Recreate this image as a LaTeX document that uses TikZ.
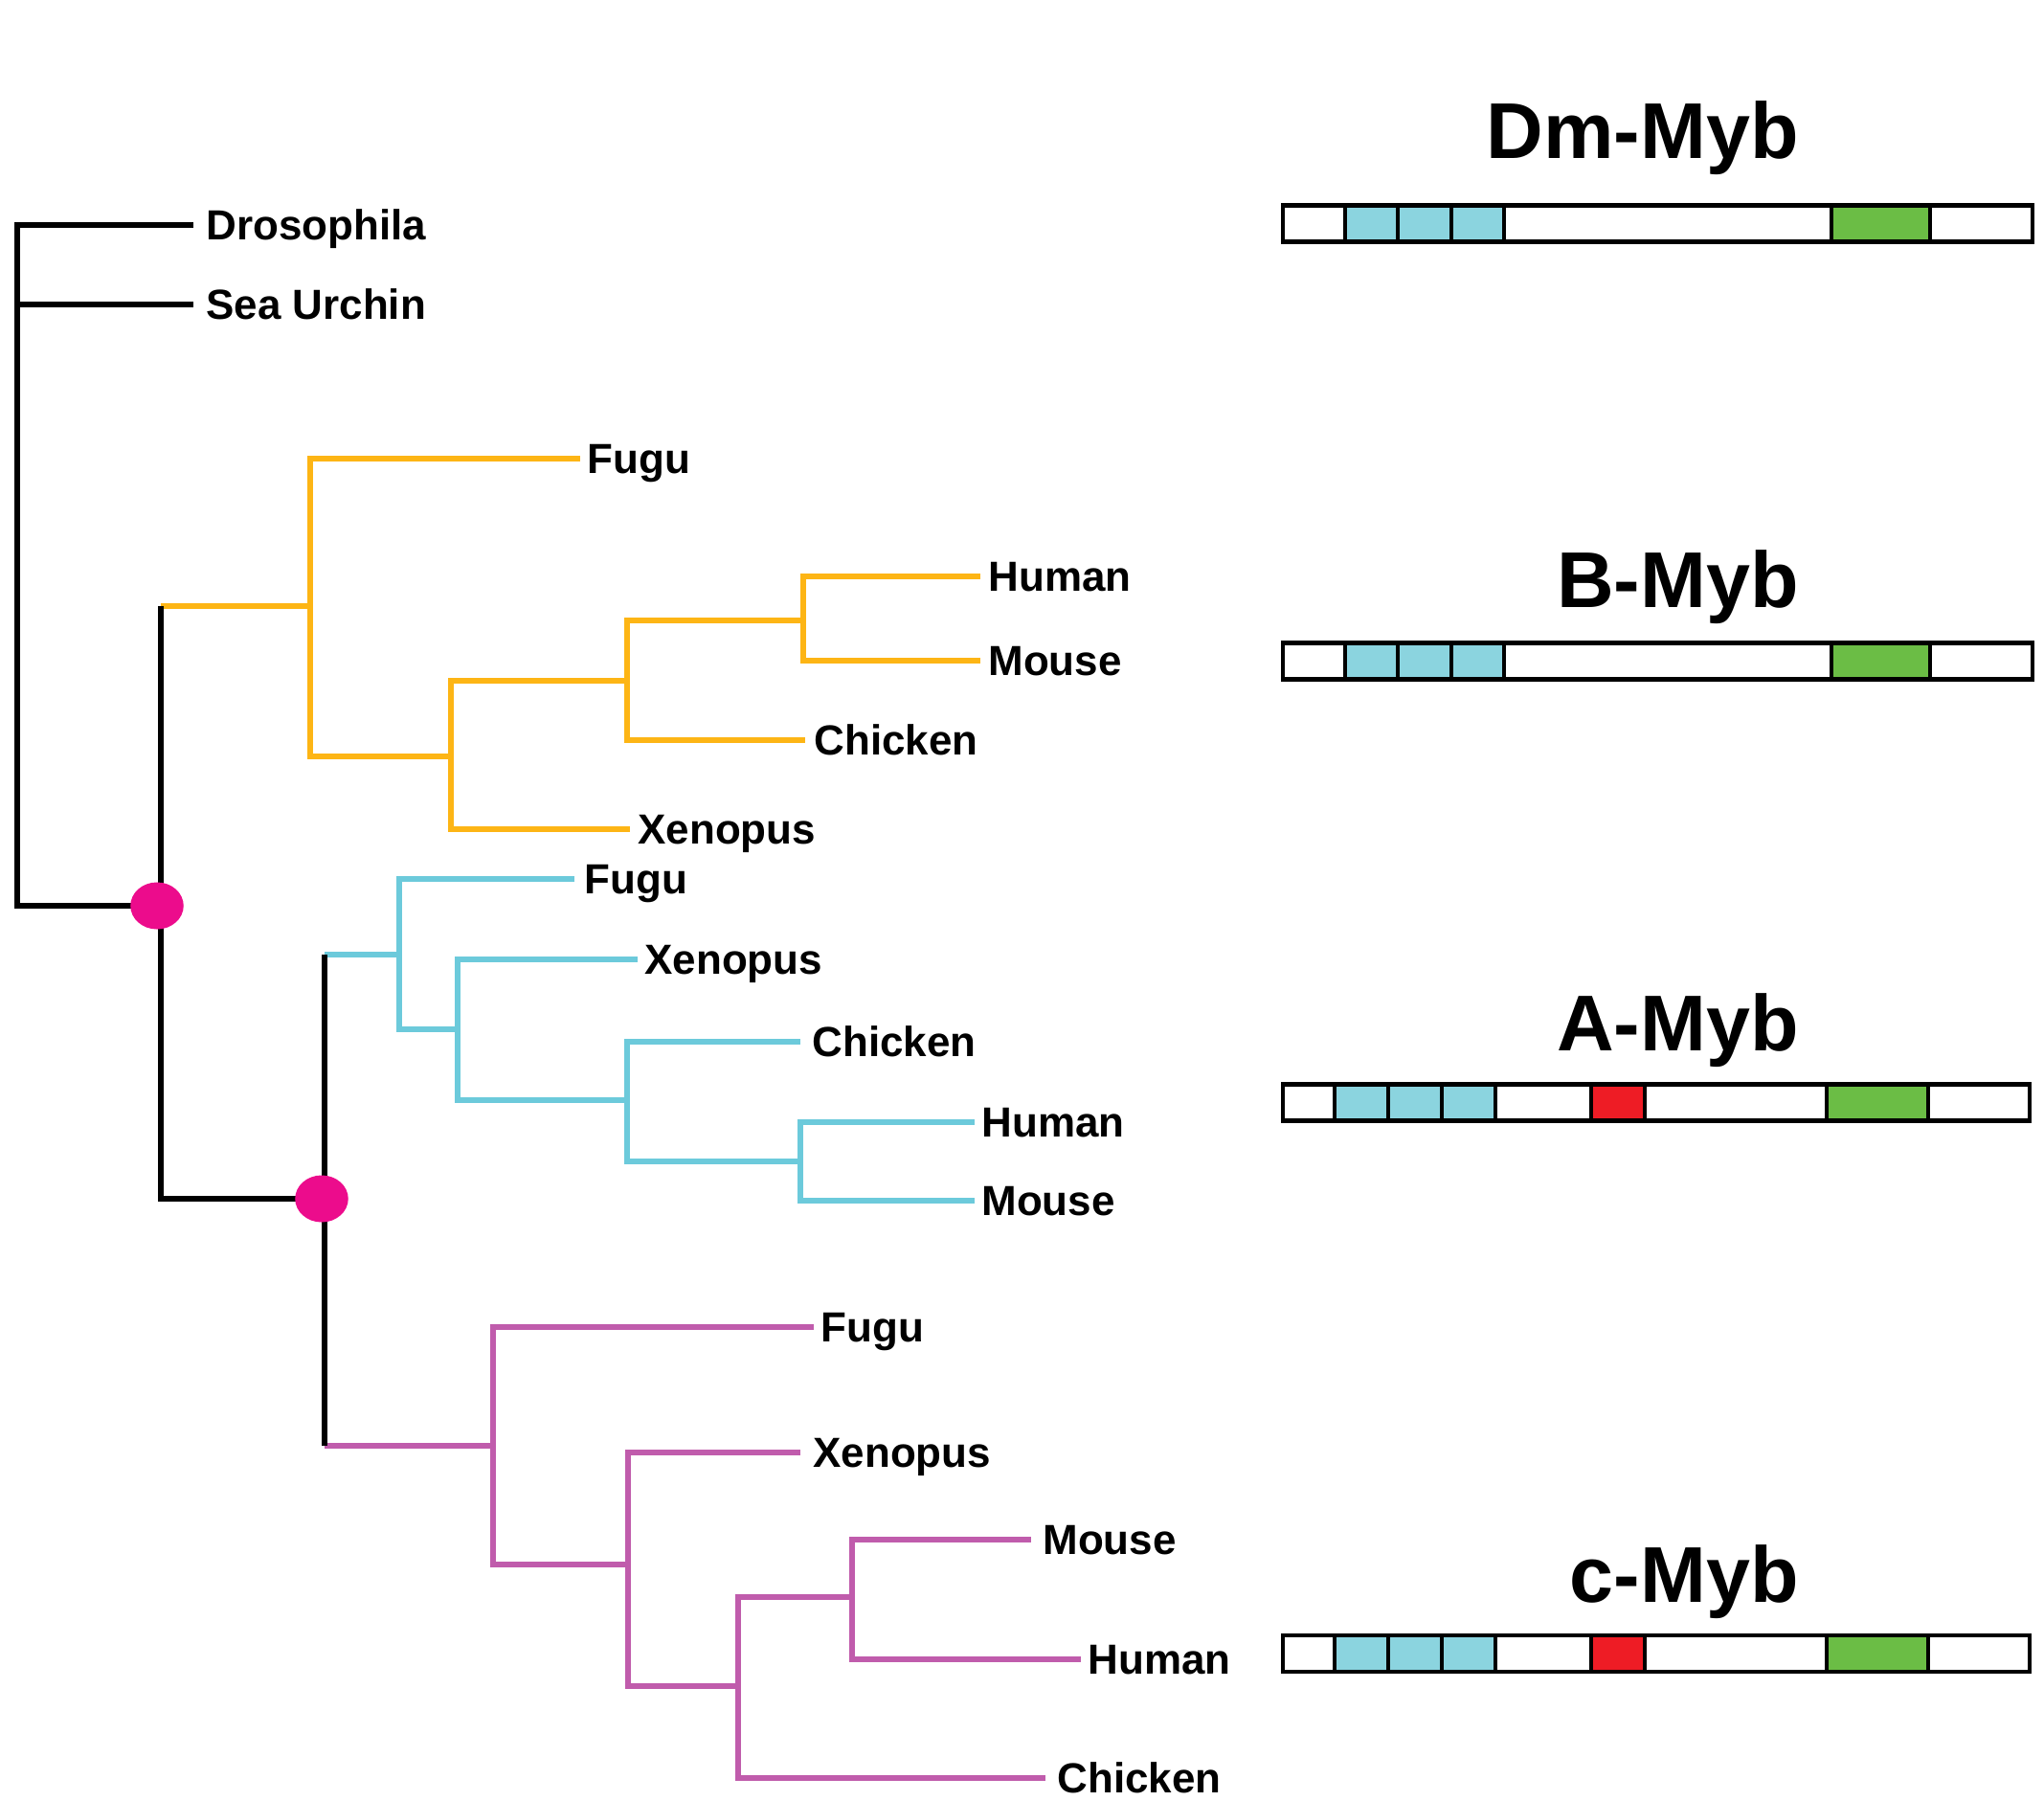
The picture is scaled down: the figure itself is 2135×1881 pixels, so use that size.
\documentclass[tikz,border=0pt]{standalone}
\usepackage{fontspec}
\setmainfont{Liberation Sans}
\usetikzlibrary{shapes.geometric}
\definecolor{orng}{HTML}{FDB515}
\definecolor{cyl}{HTML}{6CCADB}
\definecolor{mag}{HTML}{C05CAC}
\definecolor{pnk}{HTML}{EC0C8C}
\definecolor{cybox}{HTML}{8BD4DF}
\definecolor{grbox}{HTML}{6BBD45}
\definecolor{rdbox}{HTML}{EE1C25}
\begin{document}
\begin{tikzpicture}[x=0.01cm,y=-0.01cm,line width=1.4pt,
  blk/.style={draw=black,line width=1.5pt,line join=miter},
  obr/.style={draw=orng,line width=1.6pt,line join=miter},
  cbr/.style={draw=cyl,line width=1.6pt,line join=miter},
  mbr/.style={draw=mag,line width=1.6pt,line join=miter},
  lbl/.style={anchor=base west,inner sep=0pt,xshift=0.05cm,yshift=-4.5pt,
    font=\fontsize{12.5}{15}\selectfont\bfseries},
  ttl/.style={anchor=base east,inner sep=0pt,font=\fontsize{23.5}{28}\selectfont\bfseries},
  pinkdot/.style={shape=ellipse,fill=pnk,draw=none,minimum width=0.555cm,minimum height=0.49cm,inner sep=0pt},
  dom/.style={draw=black,line width=1.4pt}]
\useasboundingbox (0,0) rectangle (2135,1881);

% ---------- tree coordinates ----------
\coordinate (R) at (18,235);
\coordinate (lDros) at (202,235);
\coordinate (lSea) at (202,318);
\coordinate (V) at (168,946);
\coordinate (V2) at (339,1252);
% B-Myb
\coordinate (B) at (324,633);
\coordinate (B1) at (471,790);
\coordinate (B2) at (655,711);
\coordinate (B3) at (839,648);
\coordinate (lBF) at (606,479);
\coordinate (lBX) at (658,866);
\coordinate (lBC) at (841,773);
\coordinate (lBH) at (1024,602);
\coordinate (lBM) at (1024,690);
% A-Myb
\coordinate (A) at (417,997);
\coordinate (A1) at (478,1075);
\coordinate (A2) at (655,1149);
\coordinate (A3) at (836,1213);
\coordinate (lAF) at (600,918);
\coordinate (lAX) at (666,1002);
\coordinate (lAC) at (836,1088);
\coordinate (lAH) at (1018,1172);
\coordinate (lAM) at (1018,1254);
% c-Myb
\coordinate (C) at (515,1510);
\coordinate (C1) at (656,1634);
\coordinate (C2) at (771,1761);
\coordinate (C3) at (890,1668);
\coordinate (lCF) at (850,1386);
\coordinate (lCX) at (836,1517);
\coordinate (lCC) at (1092,1857);
\coordinate (lCM) at (1077,1608);
\coordinate (lCH) at (1129,1733);

% ---------- coloured branches ----------
\draw[obr] (V |- B) -- (B);
\draw[obr] (B) |- (lBF);
\draw[obr] (B) |- (B1);
\draw[obr] (B1) |- (lBX);
\draw[obr] (B1) |- (B2);
\draw[obr] (B2) |- (lBC);
\draw[obr] (B2) |- (B3);
\draw[obr] (B3) |- (lBH);
\draw[obr] (B3) |- (lBM);

\draw[cbr] (V2 |- A) -- (A);
\draw[cbr] (A) |- (lAF);
\draw[cbr] (A) |- (A1);
\draw[cbr] (A1) |- (lAX);
\draw[cbr] (A1) |- (A2);
\draw[cbr] (A2) |- (lAC);
\draw[cbr] (A2) |- (A3);
\draw[cbr] (A3) |- (lAH);
\draw[cbr] (A3) |- (lAM);

\draw[mbr] (V2 |- C) -- (C);
\draw[mbr] (C) |- (lCF);
\draw[mbr] (C) |- (C1);
\draw[mbr] (C1) |- (lCX);
\draw[mbr] (C1) |- (C2);
\draw[mbr] (C2) |- (C3);
\draw[mbr] (C2) |- (lCC);
\draw[mbr] (C3) |- (lCM);
\draw[mbr] (C3) |- (lCH);

% ---------- black branches ----------
\draw[blk] (lDros) -- (R) |- (V);
\draw[blk] (R |- lSea) -- (lSea);
\draw[blk] (V) -- (V |- B);
\draw[blk] (V) |- (V2);
\draw[blk] (V2 |- A) -- (V2 |- C);

\node[pinkdot,xshift=-0.04cm] (Vdot) at (V) {};
\node[pinkdot,xshift=-0.03cm] (V2dot) at (V2) {};

% ---------- leaf labels ----------
\node[lbl,xshift=0.06cm] (tDros) at (lDros) {Drosophila};
\node[lbl,xshift=0.06cm] (tSea) at (lSea) {Sea Urchin};
\node[lbl,xshift=0cm] (tBF) at (lBF) {Fugu};
\node[lbl,xshift=0.01cm] (tBX) at (lBX) {Xenopus};
\node[lbl,xshift=0.02cm] (tBC) at (lBC) {Chicken};
\node[lbl,xshift=0.01cm] (tBH) at (lBH) {Human};
\node[lbl,xshift=0.01cm] (tBM) at (lBM) {Mouse};
\node[lbl,xshift=0.03cm] (tAF) at (lAF) {Fugu};
\node[lbl] (tAX) at (lAX) {Xenopus};
\node[lbl,xshift=0.05cm] (tAC) at (lAC) {Chicken};
\node[lbl] (tAH) at (lAH) {Human};
\node[lbl] (tAM) at (lAM) {Mouse};
\node[lbl] (tCF) at (lCF) {Fugu};
\node[lbl,xshift=0.06cm] (tCX) at (lCX) {Xenopus};
\node[lbl,xshift=0.05cm] (tCM) at (lCM) {Mouse};
\node[lbl] (tCH) at (lCH) {Human};
\node[lbl,xshift=0.05cm] (tCC) at (lCC) {Chicken};

% ---------- domain diagrams ----------
\node[ttl] (tDm) at (1881,165) {Dm-Myb};
\fill[cybox] (1405,214.5) rectangle (1571,252.5);
\fill[grbox] (1913,214.5) rectangle (2016,252.5);
\draw[dom] (1340,214.5) rectangle (2123,252.5);
\foreach \x in {1405,1460,1516,1571,1913,2016} \draw[dom] (\x,214.5) -- (\x,252.5);

\node[ttl] (tB) at (1881,634) {B-Myb};
\fill[cybox] (1405,671.5) rectangle (1571,709.5);
\fill[grbox] (1913,671.5) rectangle (2016,709.5);
\draw[dom] (1340,671.5) rectangle (2123,709.5);
\foreach \x in {1405,1460,1516,1571,1913,2016} \draw[dom] (\x,671.5) -- (\x,709.5);

\node[ttl] (tA) at (1881,1097) {A-Myb};
\fill[cybox] (1394,1132.5) rectangle (1562,1170.5);
\fill[rdbox] (1662,1132.5) rectangle (1718,1170.5);
\fill[grbox] (1908,1132.5) rectangle (2014,1170.5);
\draw[dom] (1340,1132.5) rectangle (2120,1170.5);
\foreach \x in {1394,1450,1506,1562,1662,1718,1908,2014} \draw[dom] (\x,1132.5) -- (\x,1170.5);

\node[ttl] (tC) at (1881,1673) {c-Myb};
\fill[cybox] (1394,1708) rectangle (1562,1746);
\fill[rdbox] (1662,1708) rectangle (1718,1746);
\fill[grbox] (1908,1708) rectangle (2014,1746);
\draw[dom] (1340,1708) rectangle (2120,1746);
\foreach \x in {1394,1450,1506,1562,1662,1718,1908,2014} \draw[dom] (\x,1708) -- (\x,1746);
\end{tikzpicture}
\end{document}
